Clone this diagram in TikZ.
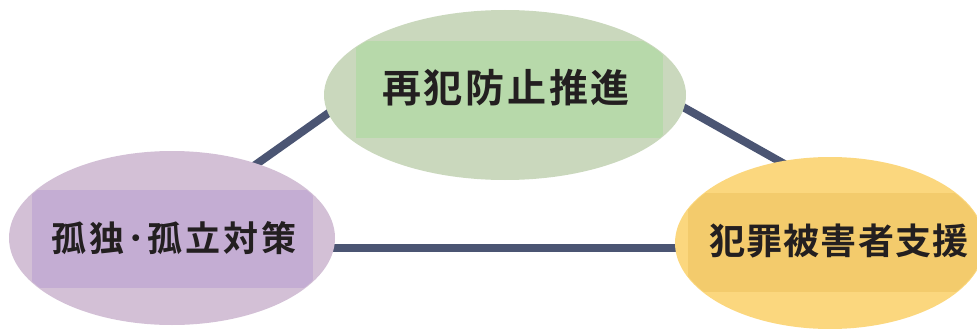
\documentclass[tikz,border=0pt]{standalone}
\usepackage{fontspec}
\usetikzlibrary{shapes.geometric}
\newfontfamily\jpA{Noto Sans CJK JP Bold}[LetterSpace=7]
\newfontfamily\jpB{Noto Sans CJK JP Bold}[LetterSpace=8]
\newfontfamily\jpC{Noto Sans CJK JP Bold}[LetterSpace=3]
\definecolor{linecol}{HTML}{4B5573}
\definecolor{gE}{HTML}{CAD8BD}
\definecolor{gR}{HTML}{B7D9AA}
\definecolor{pE}{HTML}{D3C0D6}
\definecolor{pR}{HTML}{C4ADD3}
\definecolor{yE}{HTML}{FBD77E}
\definecolor{yR}{HTML}{F3CB6C}
\definecolor{txt}{HTML}{231F20}
\begin{document}
\begin{tikzpicture}[x=1pt,y=-1pt,
  ell/.style={ellipse,draw=none,inner sep=0pt},
  conn/.style={draw=linecol,line width=8pt},
  lbl/.style={text=txt,inner sep=0pt,anchor=center}]
\clip (0,0) rectangle (977,329);
\useasboundingbox (0,0) rectangle (977,329);
% connector end points (hidden under ellipses)
\coordinate (c1) at (222,188.5);
\coordinate (c2) at (366,86.5);
\coordinate (c3) at (650,88.5);
\coordinate (c4) at (820,184);
\coordinate (c5) at (300,248);
\coordinate (c6) at (720,248);
\draw[conn] (c1) -- (c2);
\draw[conn] (c3) -- (c4);
\draw[conn] (c5) -- (c6);
% top
\node[ell,fill=gE,minimum width=362pt,minimum height=170pt] (T) at (505,95) {};
\begin{scope}
\clip (505,95) ellipse [x radius=180pt,y radius=84pt];
\fill[gR] (356,41) rectangle (663,138);
\end{scope}
\node[lbl,font=\jpA\fontsize{39pt}{39pt}\selectfont] (Tt) at (506,88) {再犯防止推進};
% left
\node[ell,fill=pE,minimum width=326pt,minimum height=174pt] (L) at (172,238) {};
\begin{scope}
\clip (172,238) ellipse [x radius=162pt,y radius=86pt];
\fill[pR] (32,190) rectangle (313,288);
\end{scope}
\node[lbl,font=\jpB\fontsize{35pt}{35pt}\selectfont] (Lt) at (174,238) {孤独･孤立対策};
% right
\node[ell,fill=yE,minimum width=310pt,minimum height=172pt] (R) at (830,243) {};
\begin{scope}
\clip (830,243) ellipse [x radius=154pt,y radius=85pt];
\fill[yR] (688,193) rectangle (990,292);
\end{scope}
\node[lbl,font=\jpC\fontsize{36pt}{36pt}\selectfont] (Rt) at (839,241) {犯罪被害者支援};
\end{tikzpicture}
\end{document}
